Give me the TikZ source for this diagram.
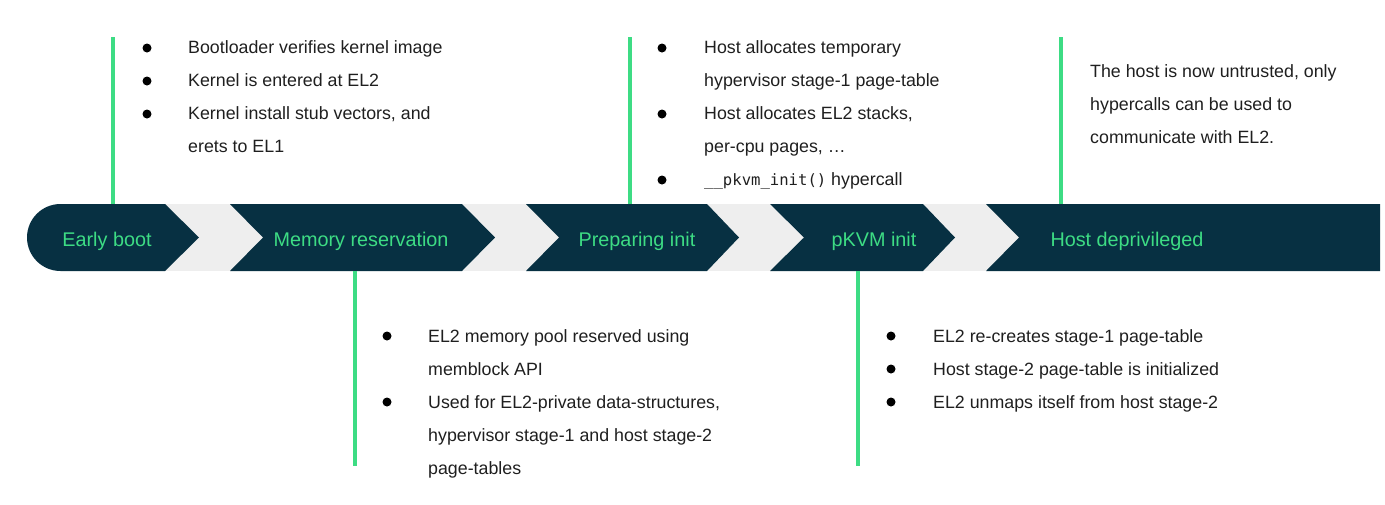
\documentclass[tikz,border=0pt]{standalone}
\usepackage{fontspec}
\setmainfont{Liberation Sans}
\setmonofont{DejaVu Sans Mono}
\usepackage{tikz}
\usetikzlibrary{calc}
\usetikzlibrary{positioning}
\definecolor{pk-navy}{HTML}{073042}
\definecolor{pk-green}{HTML}{3DDC84}
\definecolor{pk-gap}{HTML}{EEEEEE}
\definecolor{pk-text}{HTML}{1F1F1F}
\newcommand{\bodyfont}{\fontsize{17.8}{20}\selectfont}
\newcommand{\bannerfont}{\fontsize{19.8}{22}\selectfont}

\begin{document}
\begin{tikzpicture}[
    x=1pt, y=-1pt,
    seg/.style={fill=pk-navy},
    stem/.style={draw=pk-green, line width=3.5pt},
    lbl/.style={anchor=base, font=\bannerfont, text=pk-green, inner sep=0pt},
    item/.style={anchor=base west, font=\bodyfont, text=pk-text, inner sep=0pt},
    dot/.style={circle, fill=black, minimum size=9pt, inner sep=0pt}
]
\useasboundingbox (0,0) rectangle (1385,504);

% =========================================================================
% BANNER
% =========================================================================
\def\bt{204}
\def\bb{271}
\def\bm{237.5}

% faixa clara entre as setas
\fill[pk-gap] (160,\bt) rectangle (1030,\bb);

\fill[seg] (60.5,\bt) -- (165,\bt) -- (199,\bm) -- (165,\bb) -- (60.5,\bb)
    arc (90:270:33.5) -- cycle;
\fill[seg] (230,\bt) -- (462,\bt) -- (495,\bm) -- (462,\bb) -- (230,\bb)
    -- (263,\bm) -- cycle;
\fill[seg] (526,\bt) -- (707,\bt) -- (739,\bm) -- (707,\bb) -- (526,\bb)
    -- (559,\bm) -- cycle;
\fill[seg] (770,\bt) -- (923,\bt) -- (955,\bm) -- (923,\bb) -- (770,\bb)
    -- (804,\bm) -- cycle;
\fill[seg] (986,\bt) -- (1380,\bt) -- (1380,\bb) -- (986,\bb)
    -- (1019,\bm) -- cycle;

\node[lbl] (early)  at (107,246)  {Early boot};
\node[lbl] (memres) at (361,246)  {Memory reservation};
\node[lbl] (prep)   at (637,246)  {Preparing init};
\node[lbl] (pinit)  at (874,246)  {pKVM init};
\node[lbl] (depriv) at (1127,246) {Host deprivileged};

% =========================================================================
% HASTES
% =========================================================================
\coordinate (s1top) at (113,37);   \coordinate (s1bot) at (113,\bt);
\coordinate (s2top) at (630,37);   \coordinate (s2bot) at (630,\bt);
\coordinate (s3top) at (1061,37);  \coordinate (s3bot) at (1061,\bt);
\coordinate (s4top) at (355,\bb);  \coordinate (s4bot) at (355,466);
\coordinate (s5top) at (858,\bb);  \coordinate (s5bot) at (858,466);

\draw[stem] (s1top) -- (s1bot);
\draw[stem] (s2top) -- (s2bot);
\draw[stem] (s3top) -- (s3bot);
\draw[stem] (s4top) -- (s4bot);
\draw[stem] (s5top) -- (s5bot);

% =========================================================================
% EARLY BOOT
% =========================================================================
\node[dot] (d1a) at (147,48) {};
\node[dot] (d1b) at (147,81) {};
\node[dot] (d1c) at (147,114) {};
\node[item] (t1a) at (188,53)  {Bootloader verifies kernel image};
\node[item] (t1b) at (188,86)  {Kernel is entered at EL2};
\node[item] (t1c) at (188,119) {Kernel install stub vectors, and};
\node[item] (t1d) at (188,152) {erets to EL1};

% =========================================================================
% PREPARING INIT
% =========================================================================
\node[dot] (d2a) at (662,48) {};
\node[dot] (d2b) at (662,114) {};
\node[dot] (d2c) at (662,180) {};
\node[item] (t2a) at (704,53)  {Host allocates temporary};
\node[item] (t2b) at (704,86)  {hypervisor stage-1 page-table};
\node[item] (t2c) at (704,119) {Host allocates EL2 stacks,};
\node[item] (t2d) at (704,152) {per-cpu pages, \dots};
\node[item] (t2e) at (704,185)
    {{\fontsize{15.6}{20}\ttfamily \_\_pkvm\_init()} hypercall};

% =========================================================================
% HOST DEPRIVILEGED
% =========================================================================
\node[item] (t3a) at (1090,77)  {The host is now untrusted, only};
\node[item] (t3b) at (1090,110) {hypercalls can be used to};
\node[item] (t3c) at (1090,143) {communicate with EL2.};

% =========================================================================
% MEMORY RESERVATION
% =========================================================================
\node[dot] (d4a) at (387,336) {};
\node[dot] (d4b) at (387,402) {};
\node[item] (t4a) at (428,342) {EL2 memory pool reserved using};
\node[item] (t4b) at (428,375) {memblock API};
\node[item] (t4c) at (428,408) {Used for EL2-private data-structures,};
\node[item] (t4d) at (428,441) {hypervisor stage-1 and host stage-2};
\node[item] (t4e) at (428,474) {page-tables};

% =========================================================================
% PKVM INIT
% =========================================================================
\node[dot] (d5a) at (891,336) {};
\node[dot] (d5b) at (891,369) {};
\node[dot] (d5c) at (891,402) {};
\node[item] (t5a) at (933,342) {EL2 re-creates stage-1 page-table};
\node[item] (t5b) at (933,375) {Host stage-2 page-table is initialized};
\node[item] (t5c) at (933,408) {EL2 unmaps itself from host stage-2};

\end{tikzpicture}
\end{document}
